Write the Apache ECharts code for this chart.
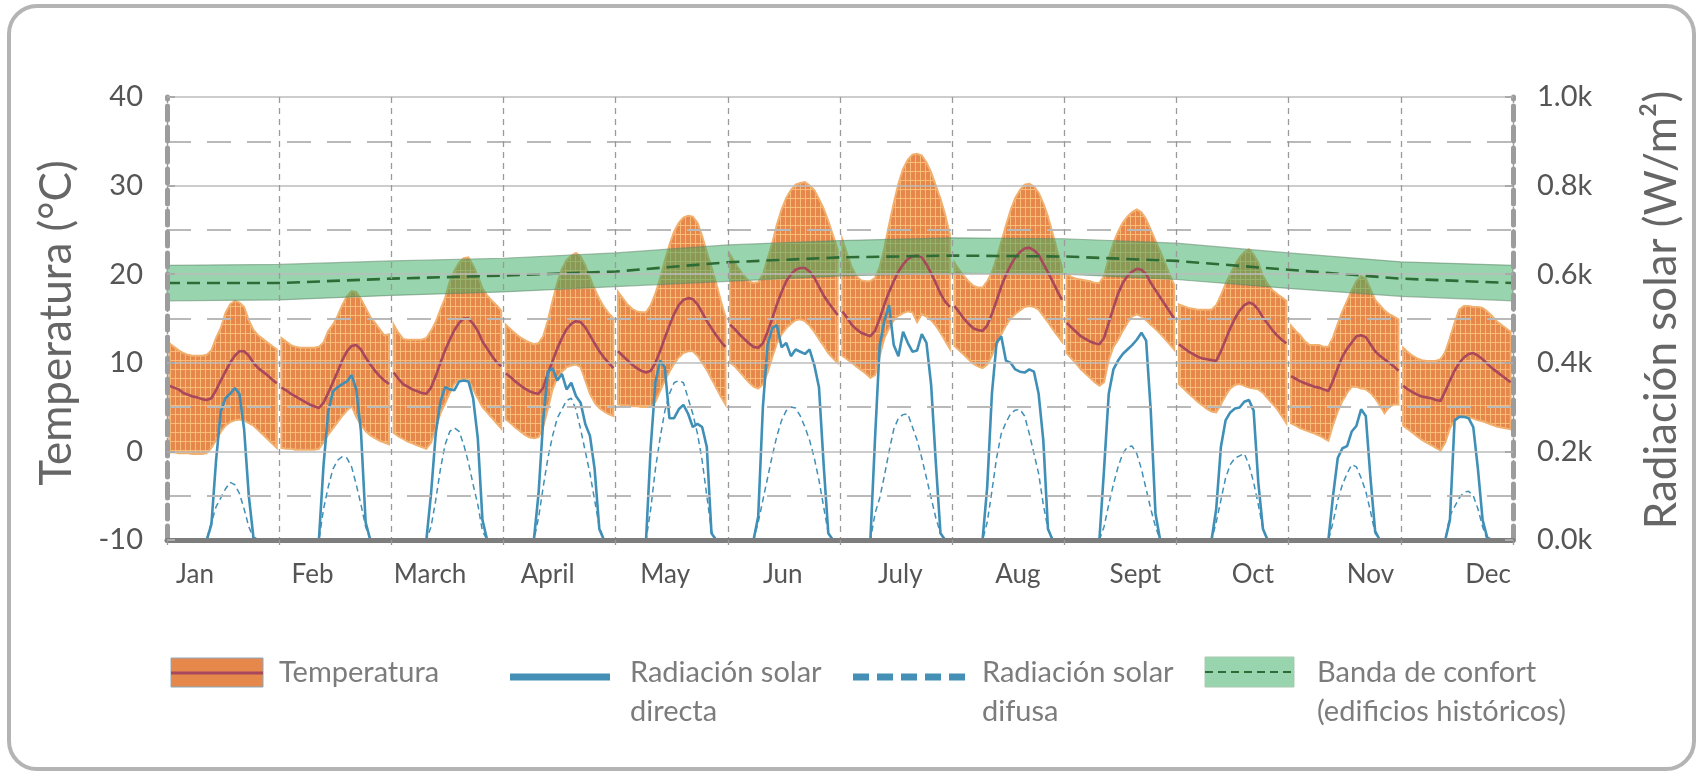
<!DOCTYPE html>
<html>
<head>
<meta charset="utf-8">
<title>Temperatura y radiación solar</title>
<script src="https://cdn.jsdelivr.net/npm/echarts/dist/echarts.min.js"></script>
<style>
  html, body { margin: 0; padding: 0; background: #fff; }
  #chart { width: 1702px; height: 775px; }
</style>
</head>
<body>
<div id="chart"></div>
<script>
// meses (etiquetas del eje x)
var months = ["Jan", "Feb", "March", "April", "May", "Jun", "July", "Aug", "Sept", "Oct", "Nov", "Dec"];

// temperatura horaria (dia tipo de cada mes), 24 valores por mes
var tempHigh = [
  [12.2,11.8,11.4,11.1,10.9,10.8,10.8,10.8,10.9,11.4,12.8,13.9,15.6,16.6,17.0,16.8,16.3,14.8,13.7,13.1,12.7,12.3,11.9,11.5],
  [12.8,12.4,12.0,11.8,11.7,11.7,11.7,11.7,11.8,12.3,13.6,14.3,15.3,16.5,17.5,18.1,18.0,17.2,16.2,15.2,14.5,13.8,13.1,13.2],
  [14.3,13.4,12.7,12.6,12.6,12.6,12.6,12.8,13.6,14.6,16.0,17.3,19.2,20.4,21.3,21.8,21.9,21.0,19.8,18.4,17.6,17.0,16.5,15.9],
  [14.3,13.8,13.3,12.9,12.6,12.3,12.1,12.2,13.0,14.8,17.0,19.0,20.6,21.6,22.1,22.4,22.0,21.0,19.6,18.3,17.2,16.3,15.6,15.0],
  [18.0,17.3,16.6,16.1,15.8,15.7,15.7,16.5,17.8,19.5,21.5,23.3,24.8,25.8,26.4,26.6,26.5,25.8,24.3,22.5,20.8,19.0,17.0,15.2],
  [22.2,21.3,20.5,19.8,19.2,19.0,19.1,20.0,21.7,23.5,25.6,27.3,28.6,29.5,30.1,30.3,30.4,30.0,29.5,28.5,27.4,26.0,24.4,22.8],
  [23.9,22.3,20.8,19.8,19.3,19.2,19.2,19.6,20.8,23.0,25.6,28.0,30.2,31.9,32.9,33.5,33.6,33.4,32.6,31.5,30.0,28.5,26.7,24.5],
  [21.3,20.5,19.8,19.2,18.7,18.5,18.5,19.2,20.2,21.8,23.6,25.5,27.2,28.6,29.5,30.1,30.2,29.9,29.2,28.0,26.5,24.6,22.6,20.8],
  [20.0,19.7,19.5,19.4,19.3,19.2,19.0,19.0,19.8,21.8,23.5,24.8,25.8,26.5,27.0,27.3,27.0,26.2,25.0,23.8,22.6,21.3,20.0,18.8],
  [16.6,16.4,16.2,16.1,16.0,16.0,16.0,16.0,16.5,17.6,18.9,20.0,21.0,21.9,22.5,22.8,22.2,21.3,19.8,18.9,18.2,17.8,17.4,17.0],
  [14.2,13.6,13.1,12.4,12.0,12.0,12.0,11.8,11.8,12.9,14.4,15.8,17.0,18.2,19.2,19.8,19.5,18.3,17.1,16.5,15.9,15.5,15.2,14.9],
  [11.7,11.2,10.8,10.5,10.3,10.2,10.2,10.2,10.4,11.2,12.8,14.5,16.0,16.4,16.4,16.3,16.3,16.2,15.8,15.3,14.7,14.3,13.9,13.5]
];
var tempMean = [
  [7.4,7.2,7.0,6.6,6.4,6.2,6.1,5.9,5.8,6.0,6.9,8.0,9.0,10.0,10.8,11.3,11.3,10.8,10.0,9.4,9.0,8.6,8.1,7.7],
  [7.2,6.9,6.5,6.2,5.9,5.6,5.3,5.1,4.9,5.5,6.6,7.8,9.0,10.3,11.3,11.9,12.0,11.5,10.6,9.8,9.1,8.5,8.0,7.6],
  [8.9,8.2,7.6,7.3,7.0,6.8,6.6,6.5,7.2,8.5,10.0,11.4,12.6,13.7,14.5,15.0,15.0,14.4,13.6,12.4,11.6,10.8,10.1,9.6],
  [8.8,8.4,7.9,7.5,7.1,6.8,6.6,6.5,7.2,8.8,10.2,11.6,12.8,13.8,14.4,14.7,14.6,14.0,13.1,12.2,11.3,10.6,10.0,9.4],
  [11.3,10.8,10.3,9.8,9.4,9.1,8.9,9.1,10.0,11.3,12.8,14.2,15.5,16.5,17.1,17.3,17.2,16.6,15.7,14.7,13.9,13.1,12.4,11.8],
  [14.3,13.8,13.2,12.7,12.2,11.8,11.7,12.2,13.5,15.0,16.6,18.0,19.2,20.0,20.5,20.7,20.7,20.3,19.6,18.6,17.6,16.8,16.1,15.4],
  [15.8,15.1,14.3,13.8,13.4,13.2,13.0,13.6,15.0,16.6,18.0,19.2,20.3,21.1,21.7,22.0,22.1,21.9,21.1,20.1,19.0,17.8,16.9,16.3],
  [16.4,15.7,15.0,14.4,13.9,13.7,13.6,14.2,15.5,17.0,18.6,19.9,21.0,21.9,22.5,22.9,23.0,22.7,22.2,21.2,20.2,19.2,18.1,17.1],
  [14.5,14.0,13.5,13.0,12.7,12.4,12.2,12.1,12.8,14.5,16.2,17.8,19.0,19.8,20.3,20.6,20.5,20.0,19.0,18.2,17.4,16.6,15.8,15.0],
  [12.1,11.7,11.3,11.0,10.7,10.5,10.4,10.3,10.2,11.3,12.6,13.9,15.0,15.9,16.5,16.8,16.6,16.0,15.1,14.4,13.7,13.1,12.6,12.2],
  [8.5,8.2,7.9,7.7,7.5,7.3,7.2,7.0,6.8,8.0,9.4,10.7,11.6,12.3,13.0,13.1,12.9,12.1,11.3,10.8,10.4,10.0,9.6,9.1],
  [7.4,7.0,6.7,6.4,6.2,6.1,6.0,5.8,5.7,6.8,8.0,9.1,10.0,10.6,11.0,11.1,10.8,10.4,9.9,9.4,9.0,8.6,8.2,7.8]
];
var tempLow = [
  [-0.1,-0.1,-0.2,-0.2,-0.2,-0.3,-0.3,-0.3,-0.2,0.4,1.3,2.2,2.9,3.3,3.5,3.6,3.5,3.2,2.9,2.4,1.9,1.4,0.9,0.4],
  [0.4,0.3,0.3,0.2,0.2,0.2,0.2,0.2,0.3,1.0,1.9,2.6,3.3,4.0,4.6,5.1,3.9,3.0,2.3,1.8,1.5,1.2,1.0,0.8],
  [2.1,1.7,1.4,1.1,0.9,0.7,0.5,0.3,1.0,2.6,4.3,5.4,6.6,7.6,8.1,8.2,8.1,7.0,6.0,5.0,4.4,3.8,3.2,2.6],
  [3.6,3.2,2.7,2.3,1.9,1.6,1.5,1.6,2.8,4.8,7.0,8.3,9.0,9.5,9.7,9.8,9.5,8.0,6.5,5.5,4.9,4.5,4.2,4.0],
  [5.3,5.2,5.2,5.1,5.1,5.0,5.0,5.0,5.6,6.8,8.0,9.0,9.9,10.6,11.1,11.3,11.3,10.8,10.0,9.2,8.2,7.2,6.2,5.3],
  [10.0,9.6,9.0,8.4,7.8,7.3,7.1,7.6,8.9,10.6,12.2,13.2,13.9,14.4,14.8,14.9,14.7,14.2,13.5,12.7,11.9,11.1,10.5,10.0],
  [10.8,10.4,10.0,9.6,9.2,8.8,8.3,8.6,10.8,12.8,13.9,14.8,15.3,15.6,15.8,15.7,14.6,15.5,15.2,14.8,14.2,13.4,12.5,11.6],
  [11.9,11.4,10.9,10.4,9.9,9.6,9.4,9.8,10.8,12.0,13.2,14.2,15.0,15.5,15.9,16.3,16.4,16.3,16.0,15.3,14.6,13.8,13.1,12.4],
  [11.1,10.5,9.9,9.3,8.8,8.3,7.8,7.4,7.8,10.3,11.8,12.6,13.6,14.5,15.2,15.5,15.2,14.8,14.3,13.8,13.3,12.7,12.1,11.5],
  [7.6,7.1,6.6,6.1,5.6,5.2,4.8,4.5,4.4,5.3,6.3,7.1,7.5,7.6,7.4,7.2,7.1,7.0,6.6,6.0,5.4,4.8,4.0,3.2],
  [3.2,2.9,2.6,2.4,2.2,2.0,1.8,1.5,1.2,3.0,4.5,5.7,6.6,7.3,7.3,7.1,7.0,6.6,6.0,5.2,4.3,5.0,5.3,5.3],
  [2.9,2.5,2.1,1.7,1.3,1.0,0.7,0.4,0.1,1.0,2.6,3.5,3.9,4.0,3.9,3.7,3.5,3.4,3.2,3.0,2.8,2.7,2.6,2.5]
];

// radiacion solar (W/m2), 24 valores por mes
var radDirect = [
  [0,0,0,0,0,0,0,0,0,35,180,290,320,330,343,330,250,100,5,0,0,0,0,0],
  [0,0,0,0,0,0,0,0,0,170,290,335,345,352,358,372,340,245,40,0,0,0,0,0],
  [0,0,0,0,0,0,0,0,105,240,312,345,340,338,358,360,358,320,230,45,0,0,0,0],
  [0,0,0,0,0,0,0,105,271,380,388,360,375,340,355,325,310,262,235,160,25,0,0,0],
  [0,0,0,0,0,0,0,210,355,405,390,275,275,295,305,285,255,262,255,210,15,0,0,0],
  [0,0,0,0,0,0,53,300,440,478,485,435,445,415,430,425,420,430,395,345,170,15,0,0],
  [0,0,0,0,0,0,0,230,440,495,530,440,415,470,445,425,428,465,445,350,175,15,0,0],
  [0,0,0,0,0,0,0,120,330,445,460,405,400,385,380,378,385,380,330,225,25,0,0,0],
  [0,0,0,0,0,0,0,0,160,330,385,405,420,430,440,452,468,450,290,60,0,0,0,0],
  [0,0,0,0,0,0,0,0,70,210,270,288,297,299,312,316,292,130,25,0,0,0,0,0],
  [0,0,0,0,0,0,0,0,0,100,185,207,212,245,258,295,280,140,20,0,0,0,0,0],
  [0,0,0,0,0,0,0,0,0,0,45,270,278,278,275,255,160,45,5,0,0,0,0,0]
];
var radDiffuse = [
  [0,0,0,0,0,0,0,0,0,40,75,95,115,130,125,105,70,30,5,0,0,0,0,0],
  [0,0,0,0,0,0,0,0,0,70,120,160,180,188,185,165,125,80,30,0,0,0,0,0],
  [0,0,0,0,0,0,0,0,30,90,160,215,245,253,245,215,175,125,80,20,0,0,0,0],
  [0,0,0,0,0,0,0,50,120,185,235,275,295,315,320,295,250,200,150,90,30,0,0,0],
  [0,0,0,0,0,0,0,70,160,230,290,330,355,360,355,320,285,240,180,100,20,0,0,0],
  [0,0,0,0,0,0,40,90,140,190,235,270,292,300,298,280,255,225,185,135,75,15,0,0],
  [0,0,0,0,0,0,0,60,95,145,200,250,275,283,285,255,225,185,140,95,50,15,0,0],
  [0,0,0,0,0,0,0,40,110,185,240,265,285,293,295,280,240,195,150,80,25,0,0,0],
  [0,0,0,0,0,0,0,0,30,80,125,165,195,210,212,195,160,115,70,30,0,0,0,0],
  [0,0,0,0,0,0,0,0,40,90,140,170,185,190,195,170,130,80,25,0,0,0,0,0],
  [0,0,0,0,0,0,0,0,0,40,90,125,150,170,165,140,110,65,15,0,0,0,0,0],
  [0,0,0,0,0,0,0,0,0,0,55,75,95,108,110,100,70,30,0,0,0,0,0,0]
];

// banda de confort (edificios historicos), valores en los limites de cada mes
var comfortMid  = [19.0,19.0,19.5,19.85,20.3,21.35,21.9,22.1,22.0,21.5,20.5,19.5,19.0];
var comfortHigh = [21.0,21.1,21.5,21.8,22.4,23.3,23.8,24.1,24.0,23.5,22.4,21.4,21.0];
var comfortLow  = [17.0,17.1,17.6,18.0,18.6,19.2,19.8,20.1,20.0,19.4,18.4,17.5,17.0];

var FONT = "Lato, 'Open Sans', sans-serif";

// textura de la banda de temperatura
var pat = document.createElement("canvas");
pat.width = 5;
pat.height = 9;
var pctx = pat.getContext("2d");
pctx.fillStyle = "#e6874c";
pctx.fillRect(0, 0, 5, 9);
pctx.fillStyle = "rgba(250,196,128,0.85)";
pctx.fillRect(0, 0, 1, 9);
pctx.fillRect(0, 0, 5, 1);

var meanData = [], directData = [], diffuseData = [], monthItems = [], comfortMidData = [];
for (var m = 0; m < 12; m++) {
  for (var h = 0; h < 24; h++) {
    meanData.push([m * 24 + h + 0.5, tempMean[m][h]]);
    directData.push([m * 24 + h + 0.5, radDirect[m][h]]);
    diffuseData.push([m * 24 + h + 0.5, radDiffuse[m][h]]);
  }
  meanData.push([m * 24 + 24, null]);
  monthItems.push([m * 24 + 12, 0]);
}
for (var k = 0; k < comfortMid.length; k++) {
  comfortMidData.push([k * 24, comfortMid[k]]);
}

function renderTempBand(params, api) {
  var mi = params.dataIndex;
  var pts = [];
  for (var i = 0; i < 24; i++) pts.push(api.coord([mi * 24 + i + 0.5, tempHigh[mi][i]]));
  for (var j = 23; j >= 0; j--) pts.push(api.coord([mi * 24 + j + 0.5, tempLow[mi][j]]));
  return {
    type: "polygon",
    shape: { points: pts },
    style: { fill: { image: pat, repeat: "repeat" }, stroke: "#f2b06e", lineWidth: 2 }
  };
}

function renderComfort(params, api) {
  var pts = [];
  for (var i = 0; i < comfortHigh.length; i++) pts.push(api.coord([i * 24, comfortHigh[i]]));
  for (var j = comfortLow.length - 1; j >= 0; j--) pts.push(api.coord([j * 24, comfortLow[j]]));
  return {
    type: "polygon",
    shape: { points: pts },
    style: { fill: "rgba(49,169,93,0.5)", stroke: "rgba(95,135,105,0.55)", lineWidth: 1.2 }
  };
}

function legendText(x, y, t) {
  return { type: "text", x: x, y: y, style: { text: t, fill: "#7c7c7c", font: "29px " + FONT, verticalAlign: "middle" } };
}

var chart = echarts.init(document.getElementById("chart"));
chart.setOption({
  animation: false,
  backgroundColor: "#fff",
  grid: [
    { left: 167, right: 189, top: 97, bottom: 235 },
    { left: 195, right: 214, top: 500, height: 40 }
  ],
  xAxis: [
    {
      type: "value", gridIndex: 0, min: 0, max: 288, interval: 24, z: 4,
      axisLabel: { show: false },
      axisLine: { onZero: false, lineStyle: { color: "#7d7d7d", width: 5 } },
      axisTick: { show: true, length: 9, lineStyle: { color: "#999", width: 1.3, type: [5, 4] } },
      splitLine: { show: true, lineStyle: { color: "#9a9a9a", width: 1.3, type: [6, 5] } }
    },
    {
      type: "category", gridIndex: 1, data: months, boundaryGap: false,
      axisLine: { show: false }, axisTick: { show: false },
      axisLabel: { interval: 0, fontSize: 26, color: "#555", fontFamily: FONT, margin: 22 }
    }
  ],
  yAxis: [
    {
      type: "value", gridIndex: 0, min: -10, max: 40, interval: 10, z: 4,
      axisLine: { show: true, onZero: false, lineStyle: { color: "#9c9c9c", width: 5, type: [14, 7] } },
      axisTick: { show: true, inside: true, length: 8, lineStyle: { color: "#aaa", width: 2 } },
      axisLabel: { fontSize: 29, color: "#555", fontFamily: FONT, margin: 24 },
      splitLine: { lineStyle: { color: "#bcbcbc", width: 1.6 } },
      minorTick: { show: false, splitNumber: 2 },
      minorSplitLine: { show: true, lineStyle: { color: "#b9b9b9", width: 2, type: [24, 16] } }
    },
    {
      type: "value", gridIndex: 0, position: "right", min: 0, max: 1000, interval: 200, z: 4,
      axisLine: { show: true, onZero: false, lineStyle: { color: "#9c9c9c", width: 5, type: [14, 7] } },
      axisTick: { show: true, inside: true, length: 8, lineStyle: { color: "#aaa", width: 2 } },
      axisLabel: {
        fontSize: 29, color: "#555", fontFamily: FONT, margin: 24,
        formatter: function (v) { return (v / 1000).toFixed(1) + "k"; }
      },
      splitLine: { show: false }
    },
    { type: "value", gridIndex: 1, show: false }
  ],
  series: [
    {
      type: "custom", name: "Temperatura", xAxisIndex: 0, yAxisIndex: 0,
      data: monthItems, renderItem: renderTempBand, silent: true, clip: false
    },
    {
      type: "line", name: "Temperatura media", xAxisIndex: 0, yAxisIndex: 0, data: meanData,
      showSymbol: false, symbol: "none", connectNulls: false, silent: true,
      lineStyle: { color: "#a8485c", width: 2.6 }
    },
    {
      type: "line", name: "Radiación solar directa", xAxisIndex: 0, yAxisIndex: 1, data: directData,
      showSymbol: false, symbol: "none", silent: true,
      lineStyle: { color: "#3f8fb7", width: 2.6 }
    },
    {
      type: "line", name: "Radiación solar difusa", xAxisIndex: 0, yAxisIndex: 1, data: diffuseData,
      showSymbol: false, symbol: "none", silent: true,
      lineStyle: { color: "#3f8fb7", width: 1.5, type: [6, 4] }
    },
    {
      type: "custom", name: "Banda de confort", xAxisIndex: 0, yAxisIndex: 0,
      data: [[144, 20]], renderItem: renderComfort, silent: true, clip: false
    },
    {
      type: "line", name: "Confort medio", xAxisIndex: 0, yAxisIndex: 0, data: comfortMidData,
      showSymbol: false, symbol: "none", silent: true,
      lineStyle: { color: "#2f6b35", width: 2.6, type: [13, 7] }
    }
  ],
  graphic: [
    { type: "rect", shape: { x: 9, y: 6, width: 1685, height: 763, r: 28 },
      style: { fill: "none", stroke: "#b4b4b4", lineWidth: 4 }, silent: true },
    { type: "text", x: 57, y: 323, rotation: Math.PI / 2,
      style: { text: "Temperatura (°C)", fill: "#666", font: "44px " + FONT, align: "center", verticalAlign: "middle" } },
    { type: "text", x: 1662, y: 310, rotation: Math.PI / 2,
      style: { text: "Radiación solar (W/m²)", fill: "#666", font: "44px " + FONT, align: "center", verticalAlign: "middle" } },

    { type: "rect", shape: { x: 171, y: 658, width: 92, height: 29 },
      style: { fill: "#e6874c", stroke: "#8aaac0", lineWidth: 1 } },
    { type: "line", shape: { x1: 171, y1: 673, x2: 263, y2: 673 }, style: { stroke: "#a8485c", lineWidth: 3 } },
    legendText(279, 673, "Temperatura"),

    { type: "line", shape: { x1: 510, y1: 677, x2: 610, y2: 677 }, style: { stroke: "#438fb6", lineWidth: 7 } },
    legendText(630, 673, "Radiación solar"),
    legendText(630, 712, "directa"),

    { type: "line", shape: { x1: 853, y1: 677, x2: 966, y2: 677 },
      style: { stroke: "#438fb6", lineWidth: 7, lineDash: [16, 8] } },
    legendText(982, 673, "Radiación solar"),
    legendText(982, 712, "difusa"),

    { type: "rect", shape: { x: 1205, y: 657, width: 89, height: 30 },
      style: { fill: "#98d4ae", stroke: "#a9c9b2", lineWidth: 1 } },
    { type: "line", shape: { x1: 1205, y1: 672, x2: 1294, y2: 672 },
      style: { stroke: "#2f6b35", lineWidth: 2, lineDash: [8, 5] } },
    legendText(1317, 673, "Banda de confort"),
    legendText(1317, 712, "(edificios históricos)")
  ]
});
</script>
</body>
</html>
